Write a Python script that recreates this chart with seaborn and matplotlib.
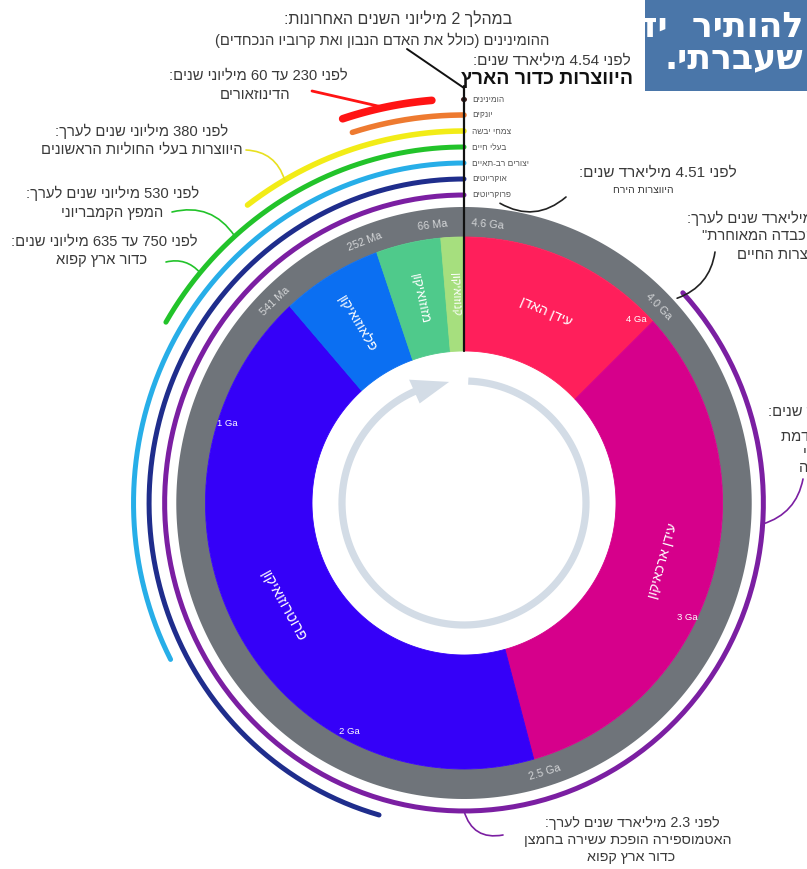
import re
import numpy as np
import matplotlib
matplotlib.use("Agg")
import matplotlib.pyplot as plt
import seaborn as sns
from matplotlib.patches import Rectangle, FancyArrowPatch, Polygon

# ---------------- data ----------------
T_EARTH = 4.6  # Ga – one full turn of the clock

eon_names = ["עידן האדן", "עידן ארכאיקון", "פרוטרוזואיקון", "פלאוזואיקון", "מזוזואיקון", "קנוזואיקון"]
eon_start = [4.6, 4.0, 2.5, 0.541, 0.252, 0.066]
eon_end = [4.0, 2.5, 0.541, 0.252, 0.066, 0.0]
eon_colors = ["#ff1f5b", "#d6008b", "#3500f8", "#0b6ff2", "#4fca8b", "#a6df7e"]
eon_orient = ["tan", "tan", "tan", "rad", "rad", "rad"]
eon_fsize = [10, 10, 10.5, 10, 9.5, 8]

boundary_labels = ["4.6 Ga", "4.0 Ga", "2.5 Ga", "541 Ma", "252 Ma", "66 Ma"]
boundary_times = [4.6, 4.0, 2.5, 0.541, 0.252, 0.066]

ga_ticks = [4, 3, 2, 1]
ga_tick_labels = ["4 Ga", "3 Ga", "2 Ga", "1 Ga"]

life_names = ["פרוקריוטים", "אוקריוטים", "יצורים רב-תאיים", "בעלי חיים", "צמחי יבשה", "יונקים", "הומינינים"]
life_start = [4.0, 2.1, 1.5, 0.76, 0.47, 0.22, 0.002]
life_colors = ["#7b1fa2", "#1f2d8c", "#27aee8", "#22c32a", "#f2ec17", "#ee7a30", "#3a1a1a"]

dino_start, dino_end = 0.23, 0.06

box_lines = ["להותיר  יד", "שעברתי."]

# ---------------- layout ----------------
CX, CY = 464, 504
SX = 0.972
R_HOLE, R_COL, R_GRAY = 152, 266, 296
R_LIFE0, R_STEP = 308, 16
R_ARROW = 122
GA_NUDGE = [-3, -9, 4, 6.5]
FS = 10.6  # annotation font size


def theta(t):
    return (T_EARTH - np.asarray(t, dtype=float)) / T_EARTH * 360.0


def pos(r, th, sx=SX):
    a = np.radians(th)
    return CX + sx * r * np.sin(a), CY - r * np.cos(a)


def vis(s):
    toks = re.findall(r"[0-9A-Za-z]+(?:[.,][0-9A-Za-z]+)*|.", s, flags=re.S)
    mirror = {"(": ")", ")": "("}
    out = []
    for tk in reversed(toks):
        if re.match(r"[0-9A-Za-z]", tk):
            out.append(tk)
        else:
            out.append(mirror.get(tk, tk))
    return "".join(out)


def norm_rot(r):
    return ((r + 90.0) % 180.0) - 90.0


sns.set_theme(style="white")
plt.rcParams["font.family"] = ["Liberation Sans", "DejaVu Sans"]

fig = plt.figure(figsize=(8.07, 8.70), dpi=100)
ax = fig.add_axes([0, 0, 1, 1])
ax.set_xlim(0, 807)
ax.set_ylim(870, 0)
ax.axis("off")

TXT = "#3a3a3a"

# gray outer ring
th = np.linspace(0, 360, 400)
xo, yo = pos(R_GRAY, th)
xi, yi = pos(R_COL, th[::-1])
ax.fill(np.r_[xo, xi], np.r_[yo, yi], color="#6f747a", lw=0, zorder=2)

# eon sectors
for name, t0, t1, c, ori, fs in zip(eon_names, eon_start, eon_end, eon_colors, eon_orient, eon_fsize):
    th = np.linspace(theta(t0), theta(t1), 120)
    xo, yo = pos(R_COL, th)
    xi, yi = pos(R_HOLE, th[::-1], sx=1.0)
    ax.fill(np.r_[xo, xi], np.r_[yo, yi], facecolor=c, edgecolor=c, lw=0.6, zorder=3)
    tm = (theta(t0) + theta(t1)) / 2
    lx, ly = pos(210, tm, sx=0.985)
    rot = norm_rot(-tm) if ori == "tan" else norm_rot(90 - tm)
    ax.text(lx, ly, vis(name), color="white", fontsize=fs, rotation=rot,
            rotation_mode="anchor", ha="center", va="center", zorder=6)

# boundary labels in the gray ring
for lab, t in zip(boundary_labels, boundary_times):
    tb = float(theta(t)) % 360
    tl = tb + 5 if tb == 0 else tb - 1.5
    lx, ly = pos((R_COL + R_GRAY) / 2, tl)
    ax.text(lx, ly, lab, color="#d4d6d8", fontsize=7.8, rotation=norm_rot(-tl),
            rotation_mode="anchor", ha="center", va="center", zorder=6)

# Ga tick labels inside coloured ring
for g, lab, nd in zip(ga_ticks, ga_tick_labels, GA_NUDGE):
    lx, ly = pos(256, theta(g) + nd)
    ax.text(lx, ly, lab, color="white", fontsize=6.8, ha="center", va="center", zorder=6)

# circular arrow in the middle
th = np.linspace(2, 338, 300)
xa, ya = pos(R_ARROW, th, sx=1.0)
ax.plot(xa, ya, color="#d3dce6", lw=5.2, solid_capstyle="butt", zorder=4)
hb1 = pos(R_ARROW - 13, 336, sx=1.0)
hb2 = pos(R_ARROW + 13, 336, sx=1.0)
tip = pos(R_ARROW, 353, sx=1.0)
ax.add_patch(Polygon([hb1, hb2, tip], closed=True, color="#d3dce6", lw=0, zorder=4))

# life arcs (seaborn line plots)
for i, (nm, t0, c) in enumerate(zip(life_names, life_start, life_colors)):
    r = R_LIFE0 + i * R_STEP
    th = np.linspace(theta(t0), 360, 300)
    x, y = pos(r, th)
    lw = 4.0 if i in (4, 5) else 3.6
    sns.lineplot(x=x, y=y, sort=False, estimator=None, color=c, linewidth=lw,
                 ax=ax, legend=False, zorder=5)
    ax.text(472, CY - r, vis(nm), ha="left", va="center", fontsize=6.0, color="#555555", zorder=7)

r_top = R_LIFE0 + 6 * R_STEP
th = np.linspace(theta(dino_start), theta(dino_end), 60)
x, y = pos(r_top, th)
sns.lineplot(x=x, y=y, sort=False, estimator=None, color="#ff1414", linewidth=5.5,
             ax=ax, legend=False, zorder=5)

# vertical "now" line
x0, y0 = pos(R_HOLE, 0, sx=1.0)
x1, y1 = pos(r_top + 13, 0, sx=1.0)
ax.plot([x0, x1], [y0, y1], color="#111111", lw=1.6, zorder=8)


def pointer(p0, p1, color, rad, lw=1.2):
    ax.add_patch(FancyArrowPatch(p0, p1, arrowstyle="-", connectionstyle=f"arc3,rad={rad}",
                                 color=color, lw=lw, shrinkA=0, shrinkB=0, zorder=7))


def label(x, y, s, size=FS, ha="center", **kw):
    ax.text(x, y, vis(s), ha=ha, va="center", fontsize=size, color=kw.pop("color", TXT), **kw)


# top annotation (hominins)
label(398, 19, "במהלך 2 מיליוני השנים האחרונות:", 11.5)
label(382, 40, "ההומינינים (כולל את האדם הנבון ואת קרוביו הנכחדים)", FS)
ax.plot([407, x1], [50, y1 + 2], color="#111111", lw=1.4, zorder=8)

# formation of the Earth
label(631, 61, "לפני 4.54 מיליארד שנים:", 11, ha="right")
label(633, 80, "היווצרות כדור הארץ", 14, ha="right", fontweight="bold", color="#111111")

# moon
label(658, 173, "לפני 4.51 מיליארד שנים:", 11)
label(643, 190, "היווצרות הירח", 7.5)
pointer((566, 198), pos(R_GRAY + 6, theta(4.51)), "#222222", -0.35)

# ~4 Ga (cut at right edge, as in the source image)
label(687, 218, "לפני 4 מיליארד שנים לערך:", FS, ha="left")
label(702, 236, "\"ההפצצה הכבדה המאוחרת\"", FS, ha="left")
label(737, 255, "היווצרות החיים", FS, ha="left")
pointer((715, 253), pos(R_GRAY + 4, theta(4.0)), "#222222", -0.3)

# ~3.5 Ga (cut at right edge, as in the source image)
label(768, 412, "לפני 3.5 מיליארד שנים:", FS, ha="left")
label(781, 437, "הופעת הפוטוסינתזה המוקדמת", FS, ha="left")
label(803, 452, "תהליך ביולוגי", FS, ha="left")
label(799, 468, "בעל השפעה", FS, ha="left")
pointer((803, 480), pos(R_LIFE0, theta(3.4)), life_colors[0], -0.3)

# dinosaurs
label(258, 76, "לפני 230 עד 60 מיליוני שנים:", FS)
label(255, 95, "הדינוזאורים", FS)
pointer((312, 92), pos(r_top, theta(0.15)), "#ff1414", 0.0, lw=2.0)

# vertebrates
label(142, 131, "לפני 380 מיליוני שנים לערך:", FS)
label(142, 150, "היווצרות בעלי החוליות הראשונים", FS)
pointer((246, 151), pos(R_LIFE0 + 4 * R_STEP, theta(0.38)), "#e8e020", -0.35)

# Cambrian explosion
label(113, 193, "לפני 530 מיליוני שנים לערך:", FS)
label(112, 213, "המפץ הקמבריוני", FS)
pointer((172, 213), pos(R_LIFE0 + 3 * R_STEP, theta(0.53)), "#22c32a", -0.35)

# snowball earth
label(104, 242, "לפני 750 עד 635 מיליוני שנים:", FS)
label(102, 260, "כדור ארץ קפוא", FS)
pointer((166, 263), pos(R_LIFE0 + 3 * R_STEP, theta(0.635)), "#22c32a", -0.3)

# 2.3 Ga
label(632, 823, "לפני 2.3 מיליארד שנים לערך:", 10.3)
label(628, 840, "האטמוספירה הופכת עשירה בחמצן", 10.3)
label(631, 857, "כדור ארץ קפוא", 10.3)
pointer((503, 836), pos(R_LIFE0, theta(2.3)), life_colors[0], -0.45)

# blue overlay box (top right)
box = Rectangle((645, 0), 162, 92, facecolor="#4a76a9", edgecolor="none", zorder=9)
ax.add_patch(box)
for yy, s in zip([27, 58], box_lines):
    t = ax.text(803, yy, vis(s), ha="right", va="center", color="white", fontsize=25,
                fontweight="bold", family=["DejaVu Sans"], zorder=10)
    t.set_clip_path(box)

fig.savefig("out.png", dpi=100, facecolor="white")
